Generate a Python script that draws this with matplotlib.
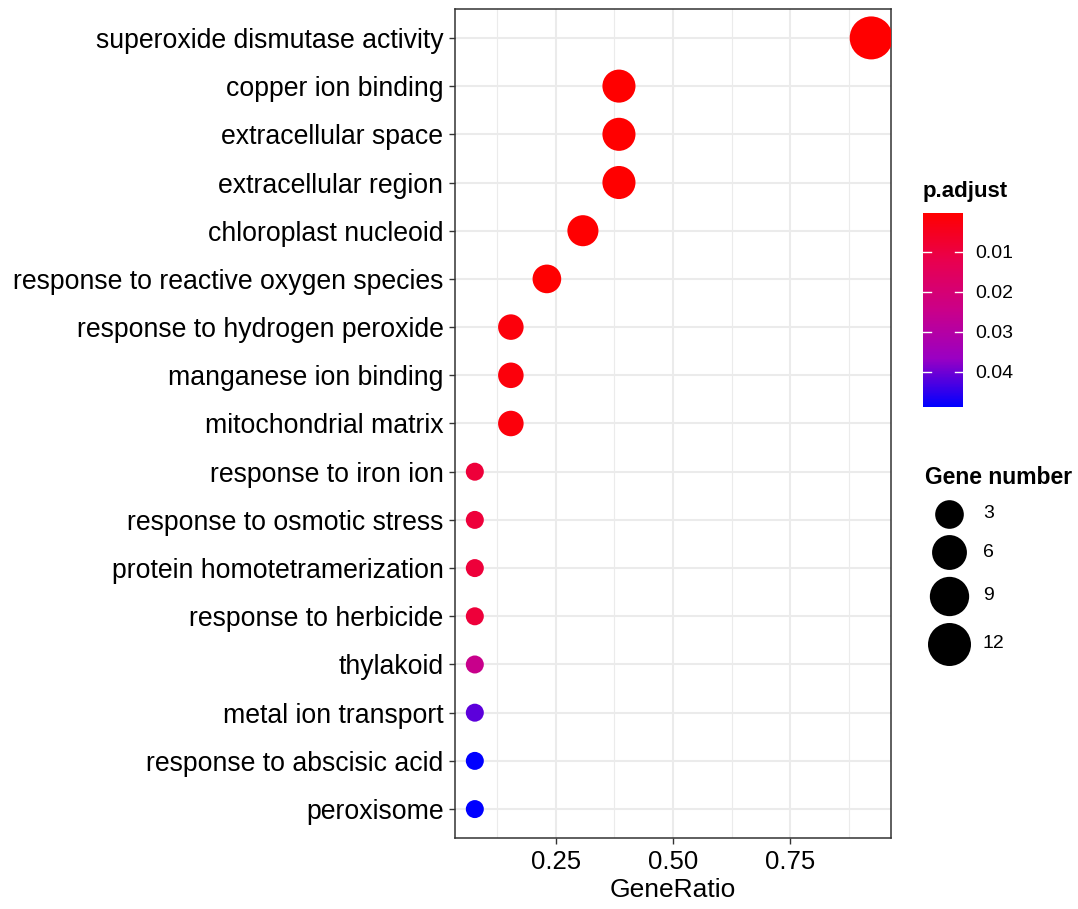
import numpy as np
import matplotlib
matplotlib.use("Agg")
import matplotlib.pyplot as plt
from matplotlib.colors import LinearSegmentedColormap, Normalize
from matplotlib.cm import ScalarMappable

plt.rcParams['font.family'] = ['Liberation Sans', 'DejaVu Sans']

# GO terms, top to bottom
terms = ["superoxide dismutase activity", "copper ion binding", "extracellular space",
         "extracellular region", "chloroplast nucleoid", "response to reactive oxygen species",
         "response to hydrogen peroxide", "manganese ion binding", "mitochondrial matrix",
         "response to iron ion", "response to osmotic stress", "protein homotetramerization",
         "response to herbicide", "thylakoid", "metal ion transport",
         "response to abscisic acid", "peroxisome"]
gene_count = [12, 5, 5, 5, 4, 3, 2, 2, 2, 1, 1, 1, 1, 1, 1, 1, 1]
total = 13
p_adjust = [0.0003, 0.0004, 0.0004, 0.0004, 0.0005, 0.0006, 0.002, 0.002, 0.002,
            0.009, 0.009, 0.009, 0.009, 0.025, 0.0415, 0.0487, 0.0487]
p_ticks = [0.01, 0.02, 0.03, 0.04]
size_breaks = [3, 6, 9, 12]

gene_ratio = np.array(gene_count) / total

W, H = 1078, 909
fig = plt.figure(figsize=(W / 100, H / 100), dpi=100)

# red -> blue gradient (roughly Lab interpolation like ggplot)
cmap = LinearSegmentedColormap.from_list("rb", ["#FF0000", "#E80050", "#CA0089", "#9A00C3", "#0000FF"])
norm = Normalize(vmin=0.00025, vmax=0.04875)

cmin, cmax = min(gene_count), max(gene_count)
def diam_px(v):
    # area scale, diameter 18..43 px
    return 18 + 25 * np.sqrt((np.asarray(v, float) - cmin) / (cmax - cmin))

def area_pt(v):
    return (diam_px(v) * 0.72) ** 2

ax = fig.add_axes([455 / W, 1 - 838 / H, (891 - 455) / W, (838 - 9) / H])
ypos = np.arange(len(terms))
ax.scatter(gene_ratio, ypos, s=area_pt(gene_count), c=p_adjust, cmap=cmap, norm=norm,
           linewidths=0, zorder=3)
ax.set_ylim(len(terms) - 0.4, -0.6)
ax.set_yticks(ypos)
ax.set_yticklabels(terms, fontsize=19.2)
ax.set_xticks([0.25, 0.50, 0.75])
ax.set_xticklabels(["0.25", "0.50", "0.75"], fontsize=18.5)
ax.set_xticks([0.125, 0.375, 0.625, 0.875], minor=True)
ax.grid(which='major', color='#EBEBEB', lw=1.5, zorder=0)
ax.grid(which='minor', axis='x', color='#EBEBEB', lw=0.8, zorder=0)
ax.set_axisbelow(True)
ax.tick_params(which='major', length=4.3, width=1, color='#333333', labelcolor='black', pad=4)
ax.tick_params(axis='x', which='major', pad=4.5)
ax.tick_params(which='minor', length=0)
for s in ax.spines.values():
    s.set_color('#333333')
    s.set_linewidth(1.1)
ax.set_xlabel("GeneRatio", fontsize=19, labelpad=3)

# colour bar legend
cax = fig.add_axes([923 / W, 1 - 407 / H, 40 / W, 194 / H])
cb = fig.colorbar(ScalarMappable(norm=norm, cmap=cmap), cax=cax, ticks=p_ticks)
cb.outline.set_visible(False)
cax.invert_yaxis()
cax.tick_params(length=0, labelsize=14, pad=9)
cax.set_yticklabels(["%.2f" % t for t in p_ticks])
for t in p_ticks:
    cax.plot([0, 0.2], [t, t], color='white', lw=1, transform=cax.get_yaxis_transform())
    cax.plot([0.8, 1], [t, t], color='white', lw=1, transform=cax.get_yaxis_transform())
fig.text(923 / W, 1 - 192 / H, "p.adjust", fontsize=16, fontweight='bold', va='center')

# size legend, drawn in pixel coordinates
lax = fig.add_axes([0, 0, 1, 1])
lax.set_xlim(0, W)
lax.set_ylim(H, 0)
lax.axis('off')
fig.text(925 / W, 1 - 478 / H, "Gene number", fontsize=16.5, fontweight='bold', va='center')
d = diam_px(size_breaks)
y = 514 - d[0] / 2
for i, v in enumerate(size_breaks):
    yc = y + d[i] / 2
    lax.scatter([949], [yc], s=area_pt(v), color='black', linewidths=0)
    lax.text(983, yc, str(v), fontsize=14, va='center', ha='left')
    y = yc + d[i] / 2 + 6.5

fig.savefig("out.png", dpi=100)
